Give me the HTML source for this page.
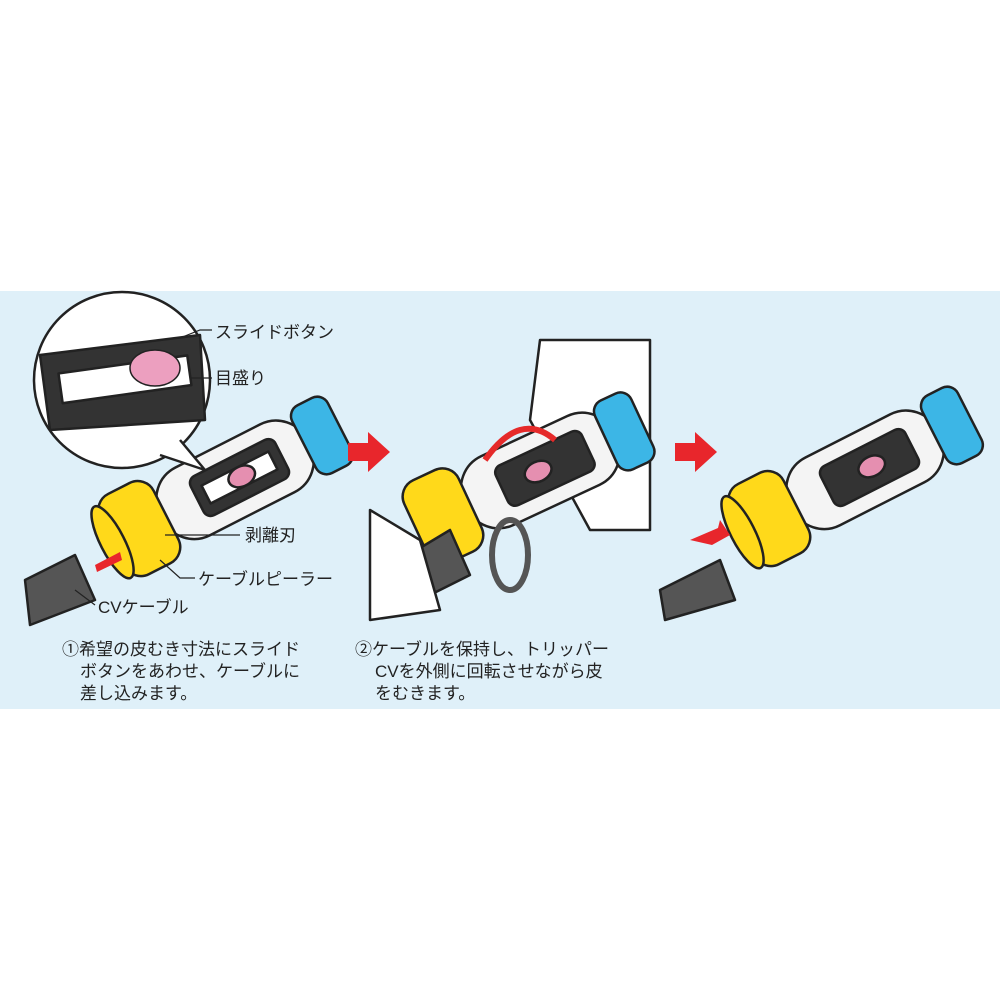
<!DOCTYPE html>
<html><head><meta charset="utf-8"><style>
body{margin:0;background:#fff;width:1000px;height:1000px;overflow:hidden;font-family:"Liberation Sans","Noto Sans CJK JP",sans-serif}
</style></head><body>
<svg width="1000" height="1000" xmlns="http://www.w3.org/2000/svg" style="position:absolute;left:0;top:0">
<rect x="0" y="291" width="1000" height="418" fill="#dff0f9"/>
<g stroke="#222" stroke-width="2.5" stroke-linejoin="round">
<path d="M25 580 L75 555 L95 600 L30 625 Z" fill="#555"/>
<g transform="translate(215,490) rotate(-27)">
<rect x="-60" y="-38" width="165" height="76" rx="35" fill="#f4f4f4"/>
<rect x="-20" y="-22" width="95" height="44" rx="8" fill="#333"/>
<rect x="-10" y="-10" width="75" height="20" fill="#fff"/>
<ellipse cx="30" cy="0" rx="14" ry="10" fill="#e58fb0"/>
<rect x="100" y="-38" width="40" height="76" rx="12" fill="#3cb6e6"/>
<rect x="-115" y="-45" width="60" height="90" rx="18" fill="#ffd91a"/>
<ellipse cx="-115" cy="0" rx="12" ry="40" fill="#ffd91a"/>
</g>
<circle cx="122" cy="380" r="88" fill="#fff"/>
<path d="M40 355 L200 335 L205 420 L50 430 Z" fill="#333"/>
<rect x="60" y="365" width="130" height="30" fill="#fff" transform="rotate(-8 120 380)"/>
<ellipse cx="155" cy="368" rx="25" ry="18" fill="#ec9fbf" stroke-width="1.5"/>
<path d="M180 440 L205 470 L160 455" fill="#fff"/>
<path d="M540 340 L650 340 L650 530 L590 530 L530 420 Z" fill="#fff"/>
<g transform="translate(520,480) rotate(-25)">
<rect x="-60" y="-38" width="165" height="76" rx="35" fill="#f4f4f4"/>
<rect x="-20" y="-22" width="95" height="44" rx="8" fill="#333"/>
<ellipse cx="20" cy="0" rx="14" ry="10" fill="#e58fb0"/>
<rect x="95" y="-38" width="40" height="76" rx="12" fill="#3cb6e6"/>
<rect x="-115" y="-45" width="60" height="90" rx="18" fill="#ffd91a"/>
</g>
<path d="M400 560 L450 530 L470 575 L420 600 Z" fill="#555"/>
<path d="M370 510 L420 540 L440 610 L370 620 Z" fill="#fff"/>
<ellipse cx="510" cy="555" rx="18" ry="35" fill="none" stroke="#555" stroke-width="6"/>
<path d="M485 460 Q520 410 555 440" fill="none" stroke="#e52a2a" stroke-width="6"/>
<path d="M660 590 L720 560 L735 600 L665 620 Z" fill="#555"/>
<g transform="translate(845,480) rotate(-27)">
<rect x="-60" y="-38" width="165" height="76" rx="35" fill="#f4f4f4"/>
<rect x="-20" y="-22" width="95" height="44" rx="8" fill="#333"/>
<ellipse cx="30" cy="0" rx="14" ry="10" fill="#e58fb0"/>
<rect x="100" y="-38" width="40" height="76" rx="12" fill="#3cb6e6"/>
<rect x="-115" y="-45" width="60" height="90" rx="18" fill="#ffd91a"/>
<ellipse cx="-115" cy="0" rx="12" ry="40" fill="#ffd91a"/>
</g>
</g>
<g fill="#e8262c">
<path d="M348 443 L368 443 L368 432 L390 452 L368 472 L368 461 L348 461 Z"/>
<path d="M675 443 L695 443 L695 432 L717 452 L695 472 L695 461 L675 461 Z"/>
<path d="M95 565 L120 552 L122 560 L97 572 Z"/>
<path d="M690 540 L718 528 L720 520 L730 535 L712 545 Z"/>
</g>
<g stroke="#222" stroke-width="1.2" fill="none">
<path d="M180 338 L200 330 L212 330"/><path d="M190 378 L212 378"/>
<path d="M165 535 L240 535"/><path d="M160 560 L180 578 L195 578"/><path d="M75 590 L95 605"/>
</g>
<g font-size="17" fill="#222">
<text x="215" y="338">スライドボタン</text>
<text x="215" y="384">目盛り</text>
<text x="245" y="541">剥離刃</text>
<text x="198" y="585">ケーブルピーラー</text>
<text x="98" y="613">CVケーブル</text>
<text x="62" y="655">①希望の皮むき寸法にスライド</text>
<text x="80" y="677">ボタンをあわせ、ケーブルに</text>
<text x="80" y="699">差し込みます。</text>
<text x="355" y="655">②ケーブルを保持し、トリッパー</text>
<text x="375" y="677">CVを外側に回転させながら皮</text>
<text x="375" y="699">をむきます。</text>
</g>
</svg>
</body></html>
